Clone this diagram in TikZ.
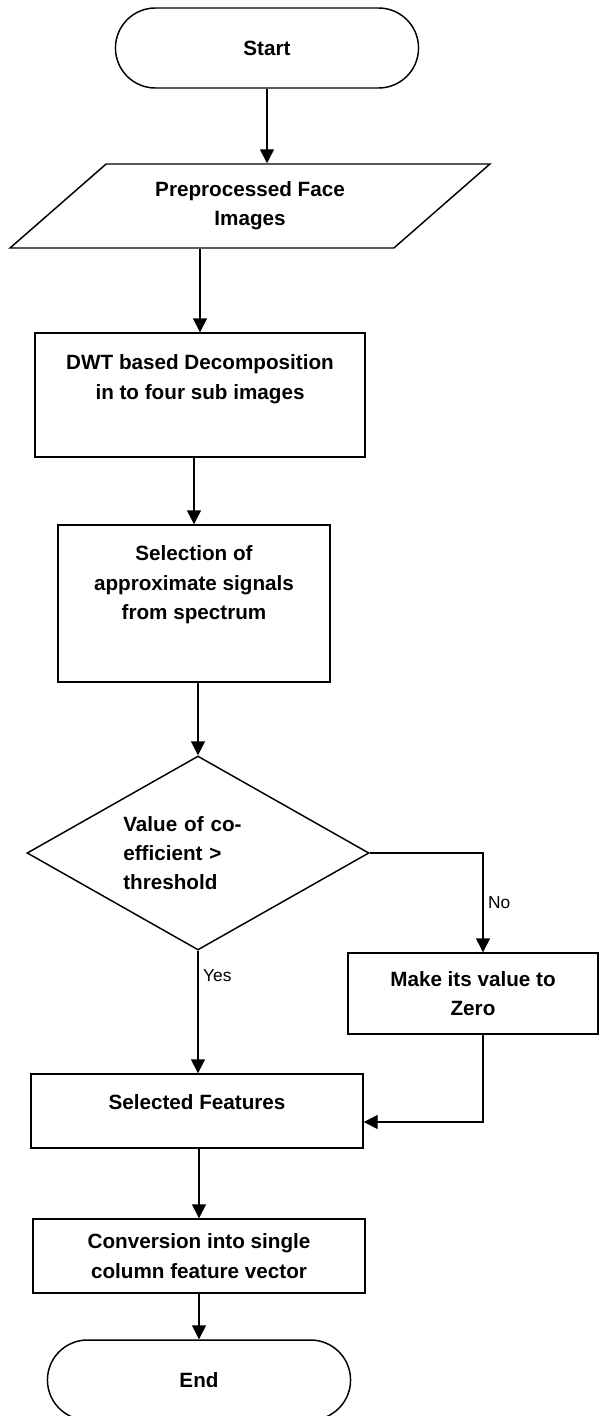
\documentclass[tikz,border=0pt]{standalone}
\usepackage{fontspec}
\setmainfont{Liberation Sans}
\usetikzlibrary{shapes.geometric, shapes.misc, arrows.meta, positioning}

% extra depth under the last line, lifts the text inside tall boxes
\newcommand{\pushup}[1]{\rule[-#1]{0pt}{#1}}

\begin{document}
\begin{tikzpicture}[x=0.75pt, y=-0.75pt, line width=1.1pt,
    >={Triangle[length=10.5pt, width=10.5pt]},
    every node/.style={font=\fontsize{15.5}{22}\selectfont\bfseries},
    term/.style={draw, rounded rectangle, minimum width=234pt, minimum height=60pt},
    io/.style={draw, trapezium, trapezium left angle=41, trapezium right angle=139,
        trapezium stretches=true, minimum width=360pt, minimum height=63pt, align=center},
    proc/.style={draw, rectangle, align=center},
    decide/.style={draw, diamond, aspect=1.76, text width=112pt, align=left},
    lbl/.style={font=\fontsize{13}{15}\selectfont}]
    \useasboundingbox (0,0) rectangle (609,1416);

    % Các khối chính
    \node[term] (start) at (267,48) {Start};
    \node[io] (faces) at (250,206) {Preprocessed Face\\Images};
    \node[proc, minimum width=247.5pt, minimum height=93pt] (dwt) at (200,395)
        {DWT based Decomposition\\in to four sub images\pushup{27pt}};
    \node[proc, minimum width=204pt, minimum height=117.75pt] (approx) at (194,603.5)
        {Selection of\\approximate signals\\from spectrum\pushup{31pt}};
    \node[decide, minimum width=256.5pt, minimum height=145.5pt] (check) at (198,853)
        {Value of co-\\efficient >\\threshold};
    \node[proc, minimum width=187.5pt, minimum height=60.75pt] (zero) at (473,993.5)
        {Make its value to\\Zero};
    \node[proc, minimum width=249pt, minimum height=55.5pt] (feat) at (197,1111)
        {Selected Features\pushup{13.5pt}};
    \node[proc, minimum width=249pt, minimum height=55.5pt] (vec) at (199,1256)
        {Conversion into single\\column feature vector};
    \node[term] (stop) at (199,1380) {End};

    % Điểm gấp của nhánh No
    \coordinate (nobend) at (483,853);
    \coordinate (back) at (483,1122);

    % Mũi tên
    \draw[->] (start.south) -- (start.south |- faces.north);
    \draw[->] (dwt.north |- faces.south) -- (dwt.north);
    \draw[->] (approx.north |- dwt.south) -- (approx.north);
    \draw[->] (check.north |- approx.south) -- (check.north);
    \draw[->] (check.east) -- (nobend) -- node[lbl, right] {No} (nobend |- zero.north);
    \draw[->] (check.south) -- node[lbl, pos=0.2, right] {Yes} (check.south |- feat.north);
    \draw[->] (nobend |- zero.south) -- (back) -- (back -| feat.east);
    \draw[->] (vec.north |- feat.south) -- (vec.north);
    \draw[->] (vec.south) -- (vec.south |- stop.north);
\end{tikzpicture}
\end{document}
